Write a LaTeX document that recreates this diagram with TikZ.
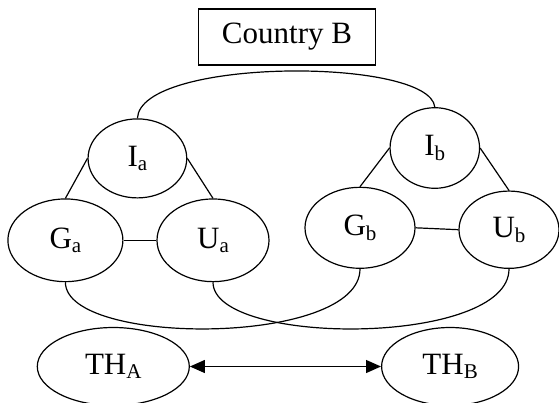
\documentclass[tikz,border=0pt]{standalone}
\usepackage{fontspec}
\setmainfont{Liberation Serif}
\usetikzlibrary{shapes.geometric,arrows.meta}
% lowered small index, as in I_a
\newcommand\lowidx[1]{\raisebox{-4.5pt}{\fontsize{21}{21}\selectfont #1}}
\begin{document}
\begin{tikzpicture}[x=1pt,y=-1pt,
  every node/.style={font=\fontsize{31}{36}\selectfont},
  oval/.style={draw,ellipse,line width=1.2pt,inner sep=0pt},
  link/.style={line width=1.2pt},
  bothway/.style={line width=1.2pt,{Triangle[length=15pt,width=13pt]}-{Triangle[length=15pt,width=13pt]}}]
\clip (0,0) rectangle (559,402);
\useasboundingbox (0,0) rectangle (559,402);

\node[draw,line width=1.2pt,minimum width=177pt,minimum height=56pt,inner sep=0pt] (country) at (287,37) {Country B};

% country a
\node[oval,minimum width=98.7pt,minimum height=79pt] (Ia) at (137.4,158.4) {I\lowidx{a}};
\node[oval,minimum width=115pt,minimum height=82.7pt] (Ga) at (65.4,240.3) {G\lowidx{a}};
\node[oval,minimum width=112pt,minimum height=82.7pt] (Ua) at (213,240.3) {U\lowidx{a}};

% country b
\node[oval,minimum width=89.5pt,minimum height=80.6pt] (Ib) at (434.8,148) {I\lowidx{b}};
\node[oval,minimum width=110pt,minimum height=81pt] (Gb) at (360,227.8) {G\lowidx{b}};
\node[oval,minimum width=100pt,minimum height=77.3pt] (Ub) at (509,229.7) {U\lowidx{b}};

% trade houses
\node[oval,minimum width=152pt,minimum height=78pt] (THA) at (113.3,366.5) {TH\lowidx{A}};
\node[oval,minimum width=137pt,minimum height=78pt] (THB) at (450.1,366.5) {TH\lowidx{B}};

% links inside each country
\draw[link] (Ia.west) -- (Ga.north);
\draw[link] (Ia.east) -- (Ua.north);
\draw[link] (Ga.east) -- (Ua.west);
\draw[link] (Ib.west) -- (Gb.north);
\draw[link] (Ib.east) -- (Ub.north);
\draw[link] (Gb.east) -- (Ub.west);

% links across countries
\draw[link] (Ia.north) .. controls +(3,-61) and +(-5,-50) .. (Ib.north);
\draw[link] (Ga.south) .. controls +(0,64.3) and +(0,77.7) .. (Gb.south);
\draw[link] (Ua.south) .. controls +(0,64.3) and +(0,77.7) .. (Ub.south);

\draw[bothway] (THA.east) -- (THB.west);
\end{tikzpicture}
\end{document}
